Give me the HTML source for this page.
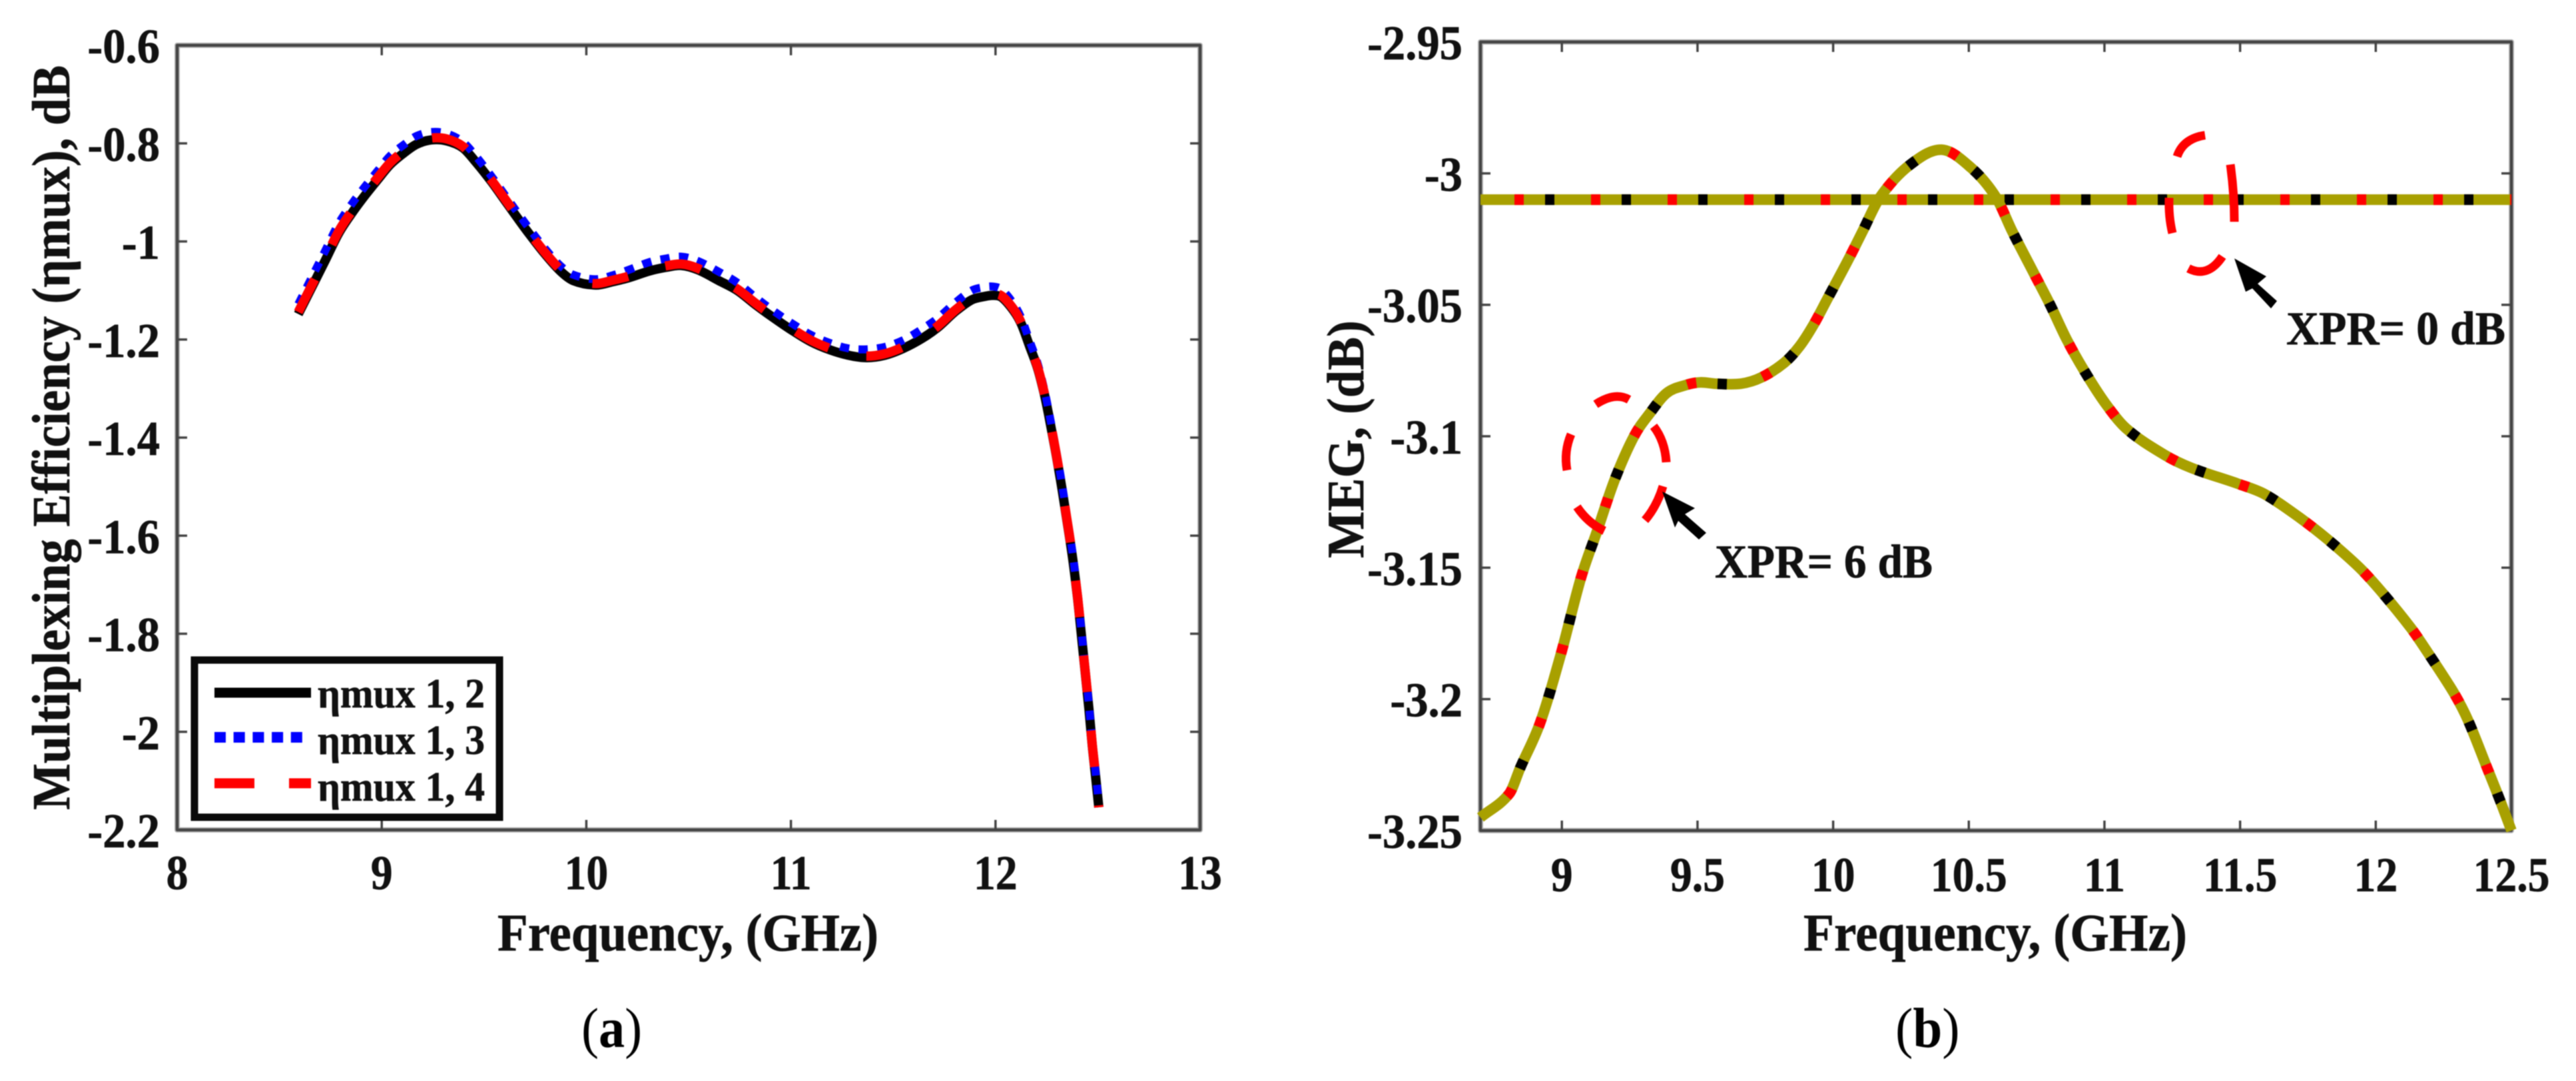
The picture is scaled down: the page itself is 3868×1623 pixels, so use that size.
<!DOCTYPE html>
<html>
<head>
<meta charset="utf-8">
<title>Multiplexing efficiency and MEG charts</title>
<style>
html,body{margin:0;padding:0;background:#fff;width:3868px;height:1623px;overflow:hidden}
svg{display:block;filter:blur(0.7px)}
text{font-family:"Liberation Serif","DejaVu Serif",serif;font-weight:bold;fill:#111;stroke:#111;stroke-width:0.7px}
</style>
</head>
<body>
<svg id="figure" xmlns="http://www.w3.org/2000/svg" width="3868" height="1623" viewBox="0 0 3868 1623">
  <rect width="3868" height="1623" fill="#fff"/>

  <g id="panel-a">
    <g id="a-axes"></g>
    <g id="a-series"></g>
    <text x="747" y="1427" font-size="79" textLength="572" lengthAdjust="spacingAndGlyphs">Frequency, (GHz)</text>
    <text transform="translate(104,1216) rotate(-90)" font-size="80" textLength="1118" lengthAdjust="spacingAndGlyphs">Multiplexing Efficiency (ηmux), dB</text>
    <g>
      <rect x="292" y="991" width="458" height="236" fill="#fff" stroke="#0a0a0a" stroke-width="11"/>
      <line x1="322" y1="1040" x2="467" y2="1040" stroke="#000" stroke-width="15"/>
      <line x1="322" y1="1107" x2="460" y2="1107" stroke="#0000ff" stroke-width="16" stroke-dasharray="17 11.7"/>
      <line x1="322" y1="1176" x2="467" y2="1176" stroke="#ff0000" stroke-width="15" stroke-dasharray="60 52"/>
      <text x="477" y="1062" font-size="62" textLength="251" lengthAdjust="spacingAndGlyphs">ηmux 1, 2</text>
      <text x="477" y="1132" font-size="62" textLength="251" lengthAdjust="spacingAndGlyphs">ηmux 1, 3</text>
      <text x="477" y="1202" font-size="62" textLength="251" lengthAdjust="spacingAndGlyphs">ηmux 1, 4</text>
    </g>
    <text transform="translate(873,1572) scale(.92,1)" font-size="85" style="font-weight:normal;fill:#000;stroke:none">(<tspan style="font-weight:bold">a</tspan>)</text>
  </g>

  <g id="panel-b">
    <g id="b-axes"></g>
    <g id="b-series"></g>
    <text x="2708" y="1427" font-size="79" textLength="576" lengthAdjust="spacingAndGlyphs">Frequency, (GHz)</text>
    <text transform="translate(2047,838) rotate(-90)" font-size="78" textLength="357" lengthAdjust="spacingAndGlyphs">MEG, (dB)</text>
    <g fill="none" stroke="#ff0000" stroke-width="13">
      <path d="M2396 607Q2425 588 2446 600"/>
      <path d="M2359 652Q2348 678 2353 706"/>
      <path d="M2368 761Q2384 785 2409 797"/>
      <path d="M2483 640Q2500 662 2502 694"/>
      <path d="M2497 730Q2488 760 2470 781"/>
    </g>
    <g fill="none" stroke="#ff0000" stroke-width="13">
      <path d="M3269 235Q3278 208 3311 203"/>
      <path d="M3349 247Q3355 290 3355 333"/>
      <path d="M3257 297Q3256 325 3262 350"/>
      <path d="M3286 403Q3315 418 3337 385"/>
    </g>
    <g>
      <polygon fill="#000" points="2496,738 2545,763 2530,772 2562,800 2551,810 2520,782 2515,792"/>
      <polygon fill="#000" points="3355,388 3403,415 3390,426 3419,452 3410,463 3382,433 3372,438"/>
    </g>
    <text x="2575" y="867" font-size="71" textLength="327" lengthAdjust="spacingAndGlyphs">XPR= 6 dB</text>
    <text x="3433" y="517" font-size="71" textLength="329" lengthAdjust="spacingAndGlyphs">XPR= 0 dB</text>
    <text transform="translate(2846,1572) scale(.93,1)" font-size="85" style="font-weight:normal;fill:#000;stroke:none">(<tspan style="font-weight:bold">b</tspan>)</text>
  </g>
</svg>

<script>
// Panel (a) data
const freqA = [8.592,8.662,8.72,8.79,8.856,8.92,8.978,9.042,9.107,9.17,9.242,9.318,9.396,9.46,9.538,9.6,9.653,9.718,9.795,9.872,9.937,10.046,10.13,10.207,10.31,10.387,10.465,10.546,10.648,10.738,10.83,10.906,11.008,11.1,11.19,11.28,11.37,11.46,11.55,11.64,11.716,11.806,11.884,11.948,11.987,12.03,12.09,12.127,12.167,12.206,12.238,12.258,12.29,12.316,12.327,12.348,12.376,12.402,12.418,12.44,12.457,12.473,12.489,12.505];
const etaMux12 = [-1.148,-1.09,-1.042,-0.983,-0.941,-0.905,-0.875,-0.843,-0.82,-0.802,-0.793,-0.795,-0.809,-0.838,-0.879,-0.915,-0.946,-0.983,-1.024,-1.06,-1.08,-1.089,-1.082,-1.074,-1.06,-1.053,-1.049,-1.058,-1.08,-1.10,-1.13,-1.153,-1.182,-1.205,-1.221,-1.232,-1.237,-1.232,-1.218,-1.198,-1.176,-1.142,-1.119,-1.112,-1.11,-1.114,-1.142,-1.169,-1.214,-1.259,-1.31,-1.35,-1.42,-1.482,-1.51,-1.566,-1.643,-1.73,-1.795,-1.885,-1.955,-2.028,-2.09,-2.154];
const etaMux13 = [-1.128,-1.07,-1.022,-0.963,-0.922,-0.887,-0.857,-0.825,-0.803,-0.785,-0.777,-0.78,-0.797,-0.826,-0.868,-0.904,-0.935,-0.972,-1.013,-1.049,-1.068,-1.077,-1.069,-1.058,-1.042,-1.035,-1.031,-1.04,-1.062,-1.084,-1.115,-1.139,-1.168,-1.191,-1.207,-1.218,-1.22,-1.215,-1.201,-1.179,-1.157,-1.124,-1.1,-1.093,-1.092,-1.098,-1.128,-1.157,-1.203,-1.249,-1.301,-1.341,-1.411,-1.473,-1.501,-1.557,-1.634,-1.721,-1.786,-1.876,-1.946,-2.019,-2.081,-2.146];
const etaMux14 = [-1.144,-1.086,-1.038,-0.979,-0.937,-0.901,-0.871,-0.839,-0.816,-0.798,-0.789,-0.791,-0.806,-0.835,-0.876,-0.912,-0.943,-0.98,-1.021,-1.057,-1.077,-1.086,-1.079,-1.071,-1.057,-1.05,-1.046,-1.055,-1.077,-1.097,-1.127,-1.15,-1.179,-1.202,-1.218,-1.229,-1.234,-1.229,-1.215,-1.195,-1.173,-1.139,-1.116,-1.109,-1.107,-1.111,-1.139,-1.167,-1.212,-1.257,-1.308,-1.348,-1.418,-1.48,-1.508,-1.564,-1.641,-1.728,-1.793,-1.883,-1.953,-2.026,-2.088,-2.154];
const xTicksA = [8,9,10,11,12,13];
const xTickLabelsA = ['8','9','10','11','12','13'];
const yTicksA = [-0.6,-0.8,-1,-1.2,-1.4,-1.6,-1.8,-2,-2.2];
const yTickLabelsA = ['-0.6','-0.8','-1','-1.2','-1.4','-1.6','-1.8','-2','-2.2'];

// Panel (b) data
const freqB = [8.7,8.806,8.847,8.92,8.996,9.07,9.13,9.195,9.266,9.326,9.387,9.458,9.51,9.567,9.66,9.736,9.82,9.876,9.927,9.98,10.06,10.111,10.173,10.28,10.4,10.51,10.6,10.66,10.74,10.8,10.86,10.925,11.0,11.08,11.22,11.32,11.49,11.59,11.72,11.82,11.94,12.02,12.13,12.19,12.29,12.34,12.41,12.46,12.5];
const megXpr6 = [-3.245,-3.236,-3.226,-3.209,-3.183,-3.154,-3.136,-3.1165,-3.10,-3.091,-3.0835,-3.0805,-3.0795,-3.08,-3.08,-3.0776,-3.072,-3.0658,-3.0577,-3.0475,-3.032,-3.0215,-3.009,-2.997,-2.991,-2.998,-3.009,-3.022,-3.038,-3.05,-3.063,-3.075,-3.087,-3.097,-3.107,-3.112,-3.118,-3.122,-3.131,-3.139,-3.15,-3.159,-3.173,-3.182,-3.198,-3.208,-3.226,-3.239,-3.25];
const freqXpr0 = [8.7,12.5];
const megXpr0 = [-3.01,-3.01];
const xTicksB = [9,9.5,10,10.5,11,11.5,12,12.5];
const xTickLabelsB = ['9','9.5','10','10.5','11','11.5','12','12.5'];
const yTicksB = [-2.95,-3,-3.05,-3.1,-3.15,-3.2,-3.25];
const yTickLabelsB = ['-2.95','-3','-3.05','-3.1','-3.15','-3.2','-3.25'];

const NS = 'http://www.w3.org/2000/svg';

function axisScale(d0, d1, r0, r1) {
  return function (v) { return r0 + (v - d0) * (r1 - r0) / (d1 - d0); };
}
const xA = axisScale(8, 13, 266, 1802);
const yA = axisScale(-0.6, -2.2, 68, 1246);
const xB = axisScale(8.7, 12.5, 2223, 3771);
const yB = axisScale(-2.95, -3.25, 63, 1247);

function curve(xs, ys, sx, sy) {
  const p = xs.map(function (x, i) { return [sx(x), sy(ys[i])]; });
  const n = p.length;
  const m = p.map(function (q, i) {
    const a = p[Math.max(i - 1, 0)], b = p[Math.min(i + 1, n - 1)];
    return (b[1] - a[1]) / (b[0] - a[0]);
  });
  let d = 'M' + p[0][0].toFixed(1) + ' ' + p[0][1].toFixed(1);
  for (let i = 0; i < n - 1; i++) {
    const h = (p[i + 1][0] - p[i][0]) / 3;
    d += 'C' + (p[i][0] + h).toFixed(1) + ' ' + (p[i][1] + m[i] * h).toFixed(1) + ' ' +
         (p[i + 1][0] - h).toFixed(1) + ' ' + (p[i + 1][1] - m[i + 1] * h).toFixed(1) + ' ' +
         p[i + 1][0].toFixed(1) + ' ' + p[i + 1][1].toFixed(1);
  }
  return d;
}

function addPath(parent, name, d, color, width, dash, offset) {
  const el = document.createElementNS(NS, 'path');
  
  
  el.setAttribute('d', d);
  el.setAttribute('fill', 'none');
  el.setAttribute('stroke', color);
  el.setAttribute('stroke-width', width);
  el.setAttribute('stroke-linejoin', 'round');
  if (dash) el.setAttribute('stroke-dasharray', dash);
  if (offset) el.setAttribute('stroke-dashoffset', offset);
  parent.appendChild(el);
  return el;
}

function addLabel(parent, name, label, x, y, size, sx, anchor) {
  const el = document.createElementNS(NS, 'text');
  
  
  el.setAttribute('transform', 'translate(' + x + ',' + y + ') scale(' + sx + ',1)');
  el.setAttribute('font-size', size);
  el.setAttribute('text-anchor', anchor);
  el.textContent = label;
  parent.appendChild(el);
}

function drawAxes(parent, prefix, sx, sy, xr, yr, xTicks, xLabels, yTicks, yLabels, labelRight, xBase) {
  const L = xr[0], R = xr[1], T = yr[0], B = yr[1];
  const box = 'M' + L + ' ' + T + 'H' + R + 'V' + B + 'H' + L + 'Z';
  addPath(parent, prefix + '-axes-box-shadow', box, '#b4b4b4', 8);
  addPath(parent, prefix + '-axes-box', box, '#444444', 4.5);
  const tickLen = 15;
  xTicks.forEach(function (t, i) {
    const x = sx(t);
    if (x > L + 2 && x < R - 2) {
      addPath(parent, prefix + '-x-tick-bottom-' + xLabels[i], 'M' + x + ' ' + B + 'V' + (B - tickLen), '#444444', 3.5);
      addPath(parent, prefix + '-x-tick-top-' + xLabels[i], 'M' + x + ' ' + T + 'V' + (T + tickLen), '#444444', 3.5);
    }
    addLabel(parent, prefix + '-x-tick-label-' + xLabels[i], xLabels[i], x, xBase, 73, 0.9, 'middle');
  });
  yTicks.forEach(function (t, i) {
    const y = sy(t);
    if (y > T + 2 && y < B - 2) {
      addPath(parent, prefix + '-y-tick-left-' + yLabels[i], 'M' + L + ' ' + y + 'H' + (L + tickLen), '#444444', 3.5);
      addPath(parent, prefix + '-y-tick-right-' + yLabels[i], 'M' + R + ' ' + y + 'H' + (R - tickLen), '#444444', 3.5);
    }
    addLabel(parent, prefix + '-y-tick-label-' + yLabels[i], yLabels[i], labelRight, y + 26, 73, 0.94, 'end');
  });
}

drawAxes(document.getElementById('a-axes'), 'panel-a', xA, yA, [266, 1802], [68, 1246], xTicksA, xTickLabelsA, yTicksA, yTickLabelsA, 240, 1335);
drawAxes(document.getElementById('b-axes'), 'panel-b', xB, yB, [2223, 3771], [63, 1247], xTicksB, xTickLabelsB, yTicksB, yTickLabelsB, 2196, 1338);

const sa = document.getElementById('a-series');
addPath(sa, 'series-eta-mux-1-2', curve(freqA, etaMux12, xA, yA), '#000000', 14);
addPath(sa, 'series-eta-mux-1-3', curve(freqA, etaMux13, xA, yA), '#0000ff', 12, '14 14');
addPath(sa, 'series-eta-mux-1-4', curve(freqA, etaMux14, xA, yA), '#ff0000', 14, '55 58');

const sb = document.getElementById('b-series');
const dB0 = curve(freqXpr0, megXpr0, xB, yB);
addPath(sb, 'series-xpr-0-db-line', dB0, '#a8a000', 16);
addPath(sb, 'series-xpr-0-db-red-dots', dB0, '#ff0000', 16, '14 101', -51);
addPath(sb, 'series-xpr-0-db-black-dots', dB0, '#000000', 16, '14 101', -97);
const dB6 = curve(freqB, megXpr6, xB, yB);
addPath(sb, 'series-xpr-6-db-line', dB6, '#a8a000', 16);
addPath(sb, 'series-xpr-6-db-red-dots', dB6, '#ff0000', 16, '14 101', -51);
addPath(sb, 'series-xpr-6-db-black-dots', dB6, '#000000', 16, '14 101', -97);
</script>
</body>
</html>
